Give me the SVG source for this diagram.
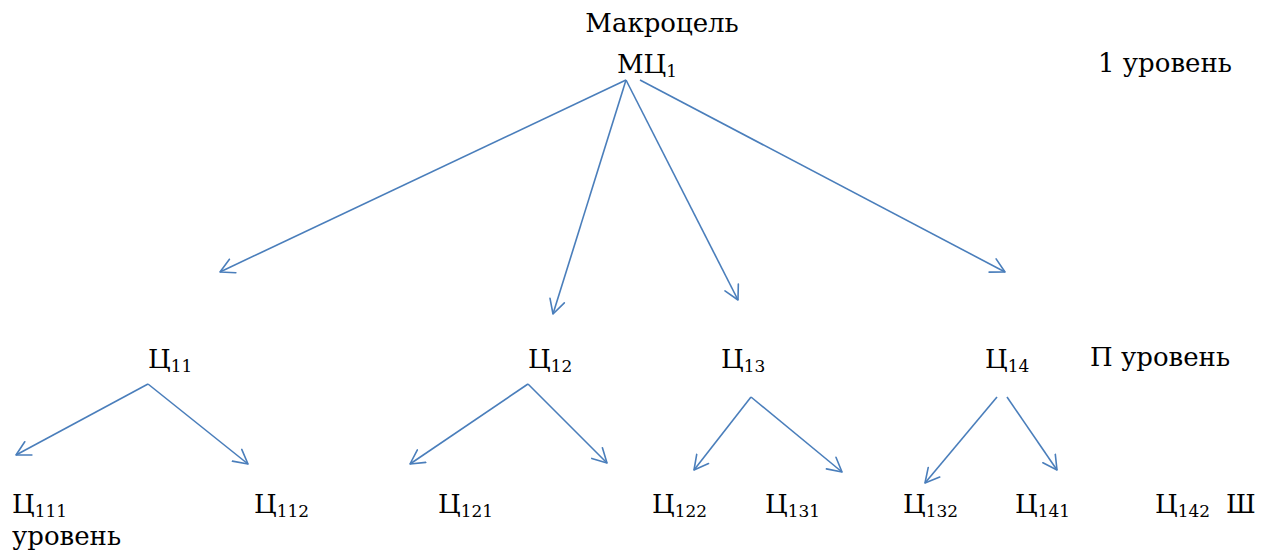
<svg xmlns="http://www.w3.org/2000/svg" width="1275" height="556" viewBox="0 0 1275 556">
<style>
.t{font-family:'DejaVu Serif','Liberation Serif',serif;font-size:26px;fill:#000}
.s{font-size:17px}
.c line{stroke:#4A7EBB;stroke-width:1.6;fill:none;marker-end:url(#a)}
</style>
<defs>
<marker id="a" markerUnits="userSpaceOnUse" markerWidth="20" markerHeight="20" refX="15" refY="8" orient="auto" viewBox="0 0 20 16">
<path d="M1,0.5 L15,8 L1,15.5" fill="none" stroke="#4A7EBB" stroke-width="1.6" stroke-linecap="round" stroke-linejoin="round"/>
</marker>
</defs>
<rect width="1275" height="556" fill="#fff"/>
<g class="c" id="connectors">
<line x1="626" y1="80" x2="220" y2="272"/>
<line x1="626" y1="80" x2="553" y2="314"/>
<line x1="626" y1="80" x2="738" y2="300"/>
<line x1="640" y1="80" x2="1005" y2="272"/>
<line x1="148" y1="384" x2="16" y2="455"/>
<line x1="148" y1="384" x2="248" y2="464"/>
<line x1="528" y1="384" x2="410" y2="464"/>
<line x1="528" y1="384" x2="607" y2="463"/>
<line x1="751" y1="397" x2="694" y2="470"/>
<line x1="751" y1="397" x2="842" y2="472"/>
<line x1="997" y1="397" x2="925" y2="483"/>
<line x1="1007" y1="397" x2="1057" y2="470"/>
</g>
<g class="t">
<g id="mc1"><text x="662" y="32" text-anchor="middle">Макроцель</text><text x="617" y="73">МЦ<tspan class="s" dy="4">1</tspan></text></g>
<g id="lvl1"><text x="1098" y="72">1 уровень</text></g>
<g id="c11"><text x="148" y="368">Ц<tspan class="s" dy="4">11</tspan></text></g>
<g id="c12"><text x="528" y="368">Ц<tspan class="s" dy="4">12</tspan></text></g>
<g id="c13"><text x="721" y="368">Ц<tspan class="s" dy="4">13</tspan></text></g>
<g id="c14"><text x="985" y="368">Ц<tspan class="s" dy="4">14</tspan></text></g>
<g id="lvl2"><text x="1090" y="366">П уровень</text></g>
<g id="c111"><text x="12" y="513">Ц<tspan class="s" dy="4">111</tspan></text></g>
<g id="c112"><text x="254" y="513">Ц<tspan class="s" dy="4">112</tspan></text></g>
<g id="c121"><text x="438" y="513">Ц<tspan class="s" dy="4">121</tspan></text></g>
<g id="c122"><text x="652" y="513">Ц<tspan class="s" dy="4">122</tspan></text></g>
<g id="c131"><text x="765" y="513">Ц<tspan class="s" dy="4">131</tspan></text></g>
<g id="c132"><text x="903" y="513">Ц<tspan class="s" dy="4">132</tspan></text></g>
<g id="c141"><text x="1015" y="513">Ц<tspan class="s" dy="4">141</tspan></text></g>
<g id="c142"><text x="1155" y="513">Ц<tspan class="s" dy="4">142</tspan></text></g>
<g id="lvl3"><text x="1226" y="513">Ш</text><text x="12" y="545">уровень</text></g>
</g>
</svg>
